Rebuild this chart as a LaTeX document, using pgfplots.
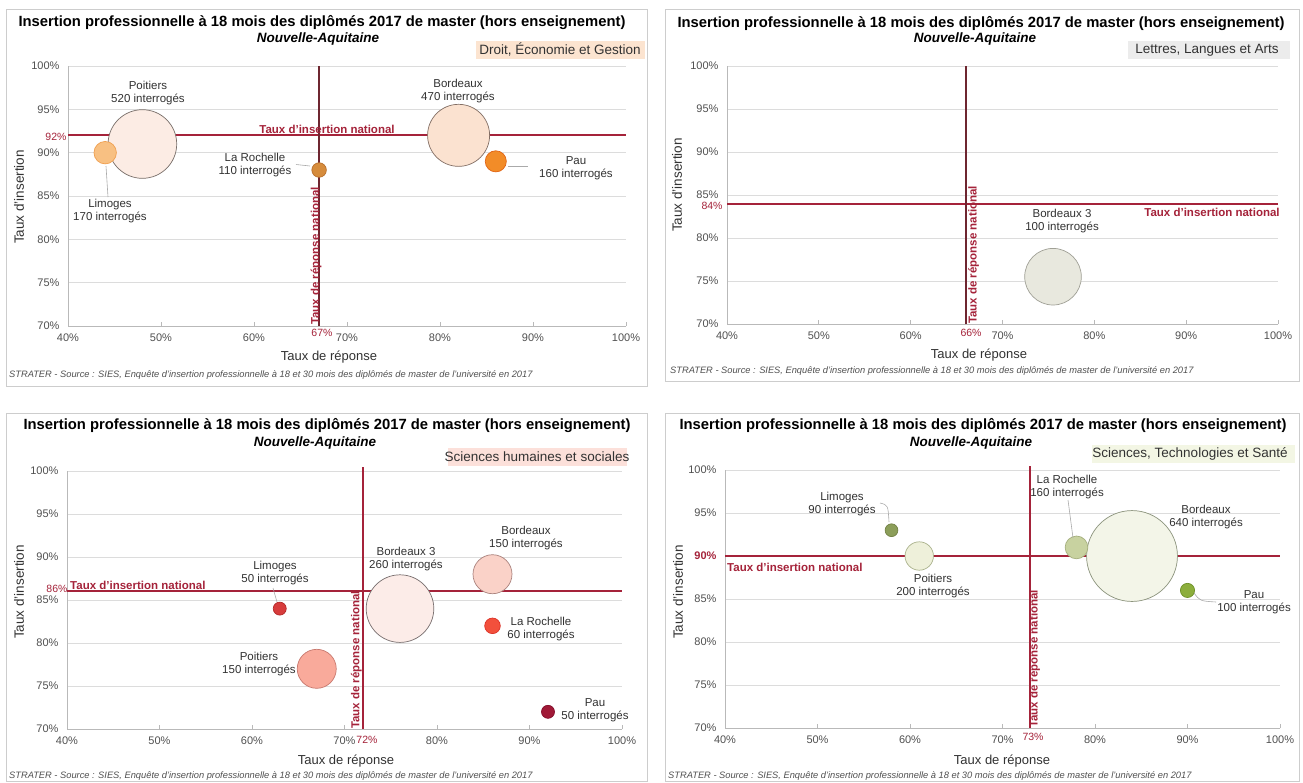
\documentclass[border=0pt]{standalone}
\usepackage{fontspec}
\setmainfont{Liberation Sans}
\usepackage{pgfplots}
\pgfplotsset{compat=1.18}

\definecolor{natred}{RGB}{165,35,58}
\definecolor{natdark}{RGB}{110,38,48}
\definecolor{gridgray}{RGB}{220,220,220}
\definecolor{axisgray}{RGB}{185,185,185}
\definecolor{tickcol}{RGB}{80,80,80}
\definecolor{labcol}{RGB}{50,50,50}
\definecolor{framecol}{RGB}{205,205,205}
\definecolor{leadcol}{RGB}{170,170,170}
% panel 1
\definecolor{limAf}{RGB}{248,192,130}\definecolor{limAd}{RGB}{240,160,80}
\definecolor{poiAf}{RGB}{252,236,228}\definecolor{poiAd}{RGB}{120,110,105}
\definecolor{lrAf}{RGB}{214,140,60}\definecolor{lrAd}{RGB}{185,112,45}
\definecolor{bdAf}{RGB}{251,226,208}\definecolor{bdAd}{RGB}{130,110,100}
\definecolor{pauAf}{RGB}{242,140,40}\definecolor{pauAd}{RGB}{225,100,20}
% panel 2
\definecolor{bd3Bf}{RGB}{232,232,222}\definecolor{bd3Bd}{RGB}{160,160,150}
% panel 3
\definecolor{limCf}{RGB}{215,60,60}\definecolor{limCd}{RGB}{180,40,40}
\definecolor{poiCf}{RGB}{249,170,155}\definecolor{poiCd}{RGB}{200,120,110}
\definecolor{bd3Cf}{RGB}{252,236,232}\definecolor{bd3Cd}{RGB}{120,110,110}
\definecolor{bdCf}{RGB}{250,210,200}\definecolor{bdCd}{RGB}{170,130,125}
\definecolor{lrCf}{RGB}{242,80,60}\definecolor{lrCd}{RGB}{220,50,40}
\definecolor{pauCf}{RGB}{160,25,55}\definecolor{pauCd}{RGB}{130,10,40}
% panel 4
\definecolor{limDf}{RGB}{140,158,90}\definecolor{limDd}{RGB}{115,130,70}
\definecolor{poiDf}{RGB}{238,240,218}\definecolor{poiDd}{RGB}{170,178,140}
\definecolor{lrDf}{RGB}{200,210,160}\definecolor{lrDd}{RGB}{165,175,125}
\definecolor{bdDf}{RGB}{243,245,232}\definecolor{bdDd}{RGB}{140,148,125}
\definecolor{pauDf}{RGB}{140,174,60}\definecolor{pauDd}{RGB}{110,145,40}
% category boxes
\definecolor{catA}{RGB}{252,228,208}
\definecolor{catB}{RGB}{236,236,236}
\definecolor{catC}{RGB}{252,224,218}
\definecolor{catD}{RGB}{243,246,228}

\newcommand{\fs}[2]{\fontsize{#1}{#2}\selectfont}

% bubble: x, y, n (interrogés), scale (pt per interrogé), fill, draw
\newcommand{\bub}[6]{%
  \addplot[only marks, mark=*, mark size={#4*#3},
    mark options={fill=#5, draw=#6, line width=0.7pt}, forget plot]
    coordinates {(#1,#2)};}

\pgfplotsset{
  panel/.style={
    scale only axis, clip=false,
    anchor=south west,
    xmin=40, xmax=100, ymin=70, ymax=100,
    xtick={40,50,60,70,80,90,100},
    ytick={70,75,80,85,90,95,100},
    /pgf/number format/assume math mode=true,
    xticklabel={\pgfmathprintnumber{\tick}\%},
    yticklabel={\pgfmathprintnumber{\tick}\%},
    axis x line*=bottom, axis y line*=left,
    axis line style={-, axisgray, line width=0.8pt},
    ymajorgrids, grid style={gridgray, line width=0.8pt},
    major tick length=4pt,
    xtick style={axisgray, line width=0.8pt},
    ytick style={draw=none},
    ticklabel style={font=\fs{11}{12.5}, text=tickcol},
    yticklabel style={xshift=-5pt},
    xticklabel style={yshift=-4pt},
  },
  natline/.style={draw=natred, line width=2pt, mark=none, forget plot},
  natvline/.style={draw=#1, line width=1.8pt, mark=none, forget plot},
}

\begin{document}
\begin{tikzpicture}
\path[use as bounding box] (0pt,0pt) rectangle (1303pt,-782pt);
\fill[white] (0pt,0pt) rectangle (1303pt,-782pt);

\begin{scope}[x=1pt,y=-1pt]
  % frames
  \draw[framecol, line width=0.8pt] (6,9) rectangle (647,386);
  \draw[framecol, line width=0.8pt] (665,9) rectangle (1299,381);
  \draw[framecol, line width=0.8pt] (6,413) rectangle (647,781);
  \draw[framecol, line width=0.8pt] (665,413) rectangle (1299,781);
  % category boxes
  \fill[catA] (476,41) rectangle (645,59);
  \fill[catB] (1128,41) rectangle (1290,59);
  \fill[catC] (448,448) rectangle (627,466);
  \fill[catD] (1092,445) rectangle (1295,463);
\end{scope}

% ---------------- Panel 1 : Droit, Economie et Gestion
\begin{axis}[panel, at={(68pt,-326pt)}, width=558pt, height=260pt]
  \bub{48}{91}{520}{0.066}{poiAf}{poiAd}
  \bub{82}{92}{470}{0.066}{bdAf}{bdAd}
  \bub{44}{90}{170}{0.066}{limAf}{limAd}
  \bub{86}{89}{160}{0.066}{pauAf}{pauAd}
  \bub{67}{88}{110}{0.066}{lrAf}{lrAd}
  \addplot[natline] coordinates {(40,92) (100,92)};
  \addplot[natvline=natdark] coordinates {(67,70) (67,100)};
\end{axis}

% ---------------- Panel 2 : Lettres, Langues et Arts
\begin{axis}[panel, at={(727pt,-324pt)}, width=551pt, height=258pt]
  \bub{75.5}{75.5}{100}{0.283}{bd3Bf}{bd3Bd}
  \addplot[natline] coordinates {(40,84) (100,84)};
  \addplot[natvline=natdark] coordinates {(66,70) (66,100)};
\end{axis}

% ---------------- Panel 3 : Sciences humaines et sociales
\begin{axis}[panel, at={(67pt,-729pt)}, width=555pt, height=258pt]
  \bub{76}{84}{260}{0.13}{bd3Cf}{bd3Cd}
  \bub{86}{88}{150}{0.13}{bdCf}{bdCd}
  \bub{67}{77}{150}{0.13}{poiCf}{poiCd}
  \bub{86}{82}{60}{0.13}{lrCf}{lrCd}
  \bub{63}{84}{50}{0.13}{limCf}{limCd}
  \bub{92}{72}{50}{0.13}{pauCf}{pauCd}
  \addplot[natline] coordinates {(40,86) (100,86)};
  \addplot[natvline=natred] coordinates {(72,70) (72,100.5)};
\end{axis}

% ---------------- Panel 4 : Sciences, Technologies et Sante
\begin{axis}[panel, at={(725pt,-728pt)}, width=555pt, height=258pt,
    yticklabel={}, yticklabels={70\%,75\%,80\%,85\%,{\textcolor{natred}{\bfseries 90\%}},95\%,100\%}]
  \bub{84}{90}{640}{0.071}{bdDf}{bdDd}
  \bub{61}{90}{200}{0.071}{poiDf}{poiDd}
  \bub{78}{91}{160}{0.071}{lrDf}{lrDd}
  \bub{90}{86}{100}{0.071}{pauDf}{pauDd}
  \bub{58}{93}{90}{0.071}{limDf}{limDd}
  \addplot[natline] coordinates {(40,90) (100,90)};
  \addplot[natvline=natred] coordinates {(73,70) (73,100.5)};
\end{axis}

\begin{scope}[x=1pt,y=-1pt, lab/.style={align=center, text=labcol, font=\fs{11.5}{13}, inner sep=0pt},
  ttl/.style={font=\fs{14.8}{16}\bfseries, text=black, inner sep=0pt},
  sub/.style={font=\fs{13.5}{15}\bfseries\itshape, text=black, inner sep=0pt},
  cat/.style={font=\fs{13.5}{15}, text=labcol, inner sep=0pt},
  xl/.style={font=\fs{13}{15}, text=labcol, inner sep=0pt},
  yl/.style={font=\fs{13.5}{15}, text=labcol, inner sep=0pt, rotate=90},
  nat/.style={font=\fs{11.5}{13}\bfseries, text=natred, inner sep=0pt},
  pct/.style={font=\fs{10.5}{12}, text=natred, inner sep=0pt},
  foot/.style={font=\fs{9.3}{10}\itshape, text=tickcol, inner sep=0pt, anchor=west},
  lead/.style={leadcol, line width=0.6pt}]

  % ===== Panel 1
  \node[ttl] at (322,23) {Insertion professionnelle à 18 mois des diplômés 2017 de master (hors enseignement)};
  \node[sub] at (318,39) {Nouvelle-Aquitaine};
  \node[cat] at (560,50) {Droit, Économie et Gestion};
  \node[lab] at (148,93) {Poitiers\\520 interrogés};
  \node[lab] at (458,91.5) {Bordeaux\\470 interrogés};
  \node[lab] at (255,165) {La Rochelle\\110 interrogés};
  \node[lab] at (576,168.5) {Pau\\160 interrogés};
  \node[lab] at (110,211.5) {Limoges\\170 interrogés};
  \draw[lead] (106,166) -- (108,197);
  \draw[lead] (296,164.5) -- (310,166);
  \draw[lead] (508,166.5) -- (528,166.5);
  \node[nat] at (327,129) {Taux d’insertion national};
  \node[nat, rotate=90, anchor=west] at (316,325) {Taux de réponse national};
  \node[pct] at (56,137) {92\%};
  \node[pct] at (322,333) {67\%};
  \node[xl] at (329,357) {Taux de réponse};
  \node[yl] at (19,197) {Taux d’insertion};
  \node[foot] at (9,375) {STRATER - Source : SIES, Enquête d’insertion professionnelle à 18 et 30 mois des diplômés de master de l’université en 2017};

  % ===== Panel 2
  \node[ttl] at (981,24) {Insertion professionnelle à 18 mois des diplômés 2017 de master (hors enseignement)};
  \node[sub] at (975,39) {Nouvelle-Aquitaine};
  \node[cat] at (1207,50) {Lettres, Langues et Arts};
  \node[lab] at (1062,221) {Bordeaux 3\\100 interrogés};
  \node[nat] at (1212,212) {Taux d’insertion national};
  \node[nat, rotate=90, anchor=north west] at (968,324) {Taux de réponse national};
  \node[pct] at (712,206) {84\%};
  \node[pct] at (971,333) {66\%};
  \node[xl] at (979,355) {Taux de réponse};
  \node[yl] at (677,185) {Taux d’insertion};
  \node[foot] at (670,371) {STRATER - Source : SIES, Enquête d’insertion professionnelle à 18 et 30 mois des diplômés de master de l’université en 2017};

  % ===== Panel 3
  \node[ttl] at (327,426) {Insertion professionnelle à 18 mois des diplômés 2017 de master (hors enseignement)};
  \node[sub] at (315,443) {Nouvelle-Aquitaine};
  \node[cat] at (537,457) {Sciences humaines et sociales};
  \node[lab] at (275,573.5) {Limoges\\50 interrogés};
  \node[lab] at (406,559) {Bordeaux 3\\260 interrogés};
  \node[lab] at (526,538.5) {Bordeaux\\150 interrogés};
  \node[lab] at (541,629) {La Rochelle\\60 interrogés};
  \node[lab] at (259,664.5) {Poitiers\\150 interrogés};
  \node[lab] at (595,710.5) {Pau\\50 interrogés};
  \draw[lead] (273,588) -- (277,602);
  \node[nat, anchor=base west] at (70,589) {Taux d’insertion national};
  \node[nat, rotate=90, anchor=south west] at (362,729) {Taux de réponse national};
  \node[pct] at (57,589) {86\%};
  \node[pct] at (367,740) {72\%};
  \node[xl] at (346,761) {Taux de réponse};
  \node[yl] at (19,592) {Taux d’insertion};
  \node[foot] at (9,776) {STRATER - Source : SIES, Enquête d’insertion professionnelle à 18 et 30 mois des diplômés de master de l’université en 2017};

  % ===== Panel 4
  \node[ttl] at (983,426) {Insertion professionnelle à 18 mois des diplômés 2017 de master (hors enseignement)};
  \node[sub] at (971,443) {Nouvelle-Aquitaine};
  \node[cat] at (1190,454) {Sciences, Technologies et Santé};
  \node[lab] at (842,504) {Limoges\\90 interrogés};
  \node[lab] at (933,586) {Poitiers\\200 interrogés};
  \node[lab] at (1067,487) {La Rochelle\\160 interrogés};
  \node[lab] at (1206,517.5) {Bordeaux\\640 interrogés};
  \node[lab] at (1254,602.5) {Pau\\100 interrogés};
  \draw[lead] (880,503) .. controls (888,505) .. (889,522);
  \draw[lead] (1068,500) -- (1073,538);
  \draw[lead] (1194,593) .. controls (1200,601) .. (1216,602);
  \node[nat, anchor=west] at (727,567) {Taux d’insertion national};
  \node[nat, rotate=90, anchor=north west] at (1029,728) {Taux de réponse national};
  \node[pct] at (1033,737) {73\%};
  \node[xl] at (1002,761) {Taux de réponse};
  \node[yl] at (678,592) {Taux d’insertion};
  \node[foot] at (668,776) {STRATER - Source : SIES, Enquête d’insertion professionnelle à 18 et 30 mois des diplômés de master de l’université en 2017};
\end{scope}
\end{tikzpicture}
\end{document}
